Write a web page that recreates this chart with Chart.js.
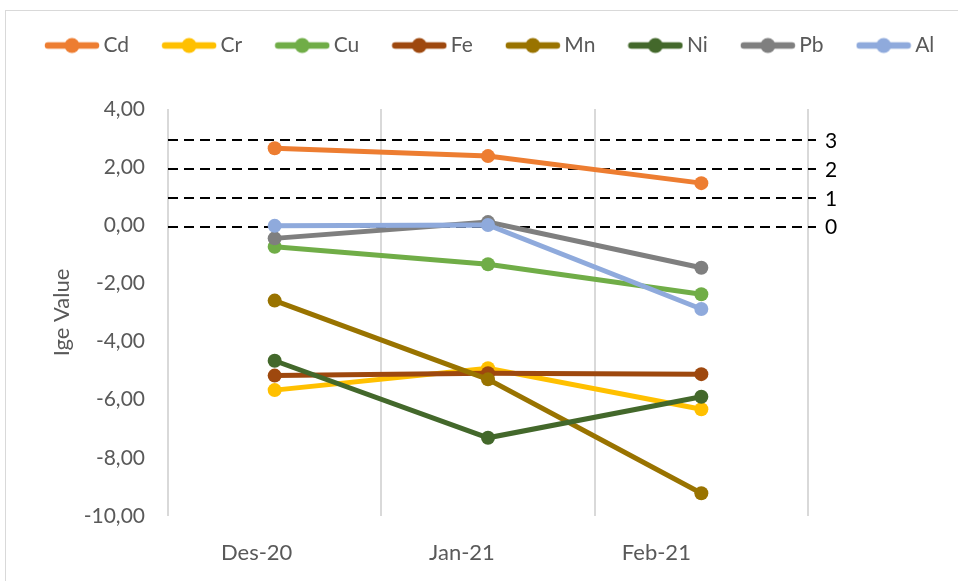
<!DOCTYPE html>
<html>
<head>
<meta charset="utf-8">
<script src="https://cdn.jsdelivr.net/npm/chart.js@4.4.1/dist/chart.umd.min.js"></script>
<style>
  html, body { margin: 0; padding: 0; background: #ffffff; }
  #wrap { position: relative; width: 958px; height: 581px; overflow: hidden; }
  #frame { position: absolute; left: 5px; top: 10px; width: 980px; height: 600px;
           border: 1px solid #d9d9d9; box-sizing: border-box; }
  #chart { position: absolute; left: 0; top: 0; }
</style>
</head>
<body>
<div id="wrap">
  <div id="frame"></div>
  <canvas id="chart" width="958" height="581"></canvas>
</div>
<script>
// Sampling months
const months = ['Des-20', 'Jan-21', 'Feb-21'];

// Igeo values per metal
const cd = [2.65, 2.38, 1.45];
const cr = [-5.67, -4.92, -6.33];
const cu = [-0.74, -1.34, -2.37];
const fe = [-5.17, -5.09, -5.12];
const mn = [-2.59, -5.30, -9.22];
const ni = [-4.66, -7.31, -5.90];
const pb = [-0.45, 0.11, -1.46];
const al = [-0.02, 0.01, -2.88];

// Igeo class boundaries shown on the right-hand axis
const classTicks = [0, 1, 2, 3];

const metals = ['Cd', 'Cr', 'Cu', 'Fe', 'Mn', 'Ni', 'Pb', 'Al'];
const values = [cd, cr, cu, fe, mn, ni, pb, al];
const colors = ['#ED7D31', '#FFC000', '#70AD47', '#9E480E', '#997300', '#43682B', '#7F7F7F', '#8FAADC'];

const FONT = 'Lato';
const textGrey = '#595959';

// legend icon: short line with a round marker
function makeIcon(color) {
  const c = document.createElement('canvas');
  c.width = 56; c.height = 18;
  const g = c.getContext('2d');
  g.strokeStyle = color; g.lineWidth = 6.5; g.lineCap = 'round';
  g.beginPath(); g.moveTo(4, 9); g.lineTo(52, 9); g.stroke();
  g.fillStyle = color;
  g.beginPath(); g.arc(28, 9, 7.5, 0, Math.PI * 2); g.fill();
  return c;
}
const icons = colors.map(makeIcon);

const datasets = metals.map((m, i) => ({
  label: m,
  data: values[i],
  borderColor: colors[i],
  backgroundColor: colors[i],
  borderWidth: 5,
  pointRadius: 7,
  pointBorderWidth: 0,
  pointBackgroundColor: colors[i],
  tension: 0,
  order: metals.length - i   // later series drawn on top
}));

// month labels under the category axis
const monthShift = [-18, -26, -45];
const monthLabels = {
  id: 'monthLabels',
  afterDraw(chart) {
    const xs = chart.scales.x;
    const ctx = chart.ctx;
    ctx.save();
    ctx.font = '22px ' + FONT;
    ctx.fillStyle = textGrey;
    ctx.textAlign = 'center';
    ctx.textBaseline = 'middle';
    months.forEach((m, i) => {
      ctx.fillText(m, xs.getPixelForTick(i) + monthShift[i], xs.top + 37);
    });
    ctx.restore();
  }
};

// keep the legend on one row and leave room beneath it
const legendSpace = {
  id: 'legendSpace',
  beforeLayout(chart) {
    const lg = chart.legend;
    if (lg && !lg._patched) {
      const fit = lg.fit.bind(lg);
      lg.fit = function () {
        const mw = this.maxWidth;
        this.maxWidth = mw + 400;
        fit();
        this.maxWidth = mw;
        this.width = mw;
        this.height = 113;
      };
      lg._patched = true;
    }
  },
  afterLayout(chart) {
    if (chart.legend) chart.legend.right = chart.width + 400;
  }
};

new Chart(document.getElementById('chart'), {
  type: 'line',
  data: { labels: months, datasets },
  plugins: [legendSpace, monthLabels],
  options: {
    responsive: false,
    animation: false,
    layout: { padding: { left: 12, right: 0, top: -4, bottom: 0 } },
    plugins: {
      tooltip: { enabled: false },
      legend: {
        position: 'top',
        align: 'start',
        labels: {
          usePointStyle: true,
          pointStyleWidth: 42,
          padding: 39,
          color: textGrey,
          font: { family: FONT, size: 21 },
          sort: (a, b) => a.datasetIndex - b.datasetIndex,
          generateLabels(chart) {
            const items = Chart.defaults.plugins.legend.labels.generateLabels(chart);
            items.forEach(it => { it.pointStyle = icons[it.datasetIndex]; });
            return items;
          }
        }
      }
    },
    scales: {
      x: {
        type: 'category',
        offset: true,
        grid: { display: true, offset: true, color: '#d9d9d9', lineWidth: 2, drawTicks: false },
        border: { display: false },
        ticks: { display: false },
        afterFit(s) { s.height = 65; }
      },
      y: {
        position: 'left',
        min: -10, max: 4,
        ticks: {
          stepSize: 2, padding: 23, color: textGrey,
          font: { family: FONT, size: 21 },
          callback: v => v.toFixed(2).replace('.', ',')
        },
        grid: { display: false, drawTicks: false },
        border: { display: false },
        title: {
          display: true, text: 'Ige Value', color: textGrey,
          font: { family: FONT, size: 22 },
          padding: { top: 37, bottom: 0 }
        },
        afterFit(s) { s.width = 156; }
      },
      y2: {
        position: 'right',
        z: 1,
        min: -10.01, max: 4.07,
        afterBuildTicks(s) { s.ticks = classTicks.map(v => ({ value: v })); },
        ticks: { color: '#000000', padding: 9, labelOffset: 1, font: { family: FONT, size: 21 } },
        grid: {
          display: true, drawOnChartArea: true, color: '#000000', lineWidth: 2,
          drawTicks: true, tickLength: 8, tickColor: '#000000', tickWidth: 2
        },
        border: { display: false, dash: [10, 6] },
        afterFit(s) { s.width = 150; }
      }
    }
  }
});
</script>
</body>
</html>
